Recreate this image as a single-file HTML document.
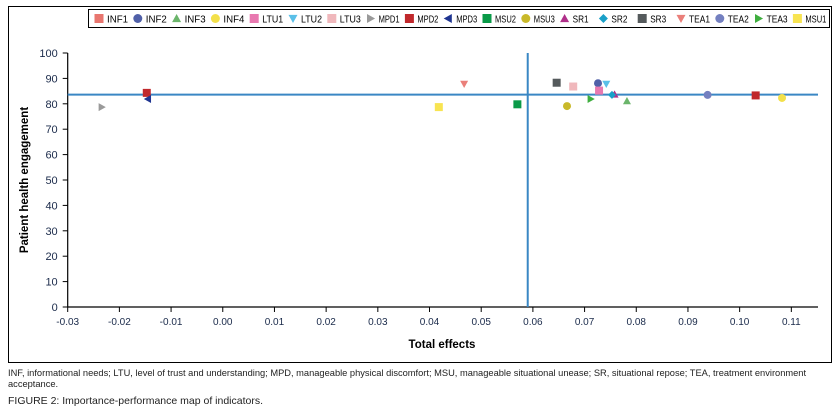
<!DOCTYPE html>
<html><head><meta charset="utf-8"><style>
body{margin:0;background:#fff;width:840px;height:416px;overflow:hidden;font-family:"Liberation Sans Narrow","Liberation Sans",sans-serif;}
svg text{font-family:"Liberation Sans Narrow","Liberation Sans",sans-serif;}
.cap{position:absolute;left:8px;font-size:9.3px;color:#222;line-height:11px;}
</style></head><body>
<svg id="chart" width="840" height="416" style="position:absolute;left:0;top:0">
<rect x="8.5" y="6.5" width="823" height="356" fill="#fff" stroke="#000" stroke-width="1"/>
<g id="plot"></g>
</svg>
<div class="cap" style="top:368px;width:825px">INF, informational needs; LTU, level of trust and understanding; MPD, manageable physical discomfort; MSU, manageable situational unease; SR, situational repose; TEA, treatment environment acceptance.</div>
<div class="cap" style="top:396px;font-size:10.5px">FIGURE 2: Importance-performance map of indicators.</div>
<script>
const labels=["INF1","INF2","INF3","INF4","LTU1","LTU2","LTU3","MPD1","MPD2","MPD3","MSU2","MSU3","SR1","SR2","SR3","TEA1","TEA2","TEA3","MSU1"];
const xVals=[0.1031,0.0726,0.0782,0.1082,0.0728,0.0742,0.0678,-0.0234,-0.0147,-0.0145,0.0570,0.0666,0.0758,0.0753,0.0646,0.0467,0.0938,0.0712,0.0418];
const yVals=[83.3,88.1,81.1,82.3,85.2,87.8,86.8,78.7,84.3,81.9,79.8,79.1,83.7,83.5,88.3,87.8,83.5,81.9,78.7];
const colors=["#c0282c","#5060a8","#6bb56b","#f3e04a","#e879b0","#5bc0e8","#f0b8bc","#9a9a9a","#c0282c","#1f3591","#0a9a48","#c9b92a","#b0308a","#1aa0c8","#555a5c","#ea7f7a","#7480c0","#3fae3f","#f8e451"];
const legendColors=["#e8766f","#5060a8","#6bb56b","#f3e04a","#e879b0","#5bc0e8","#f0b8bc","#9a9a9a","#c0282c","#1f3591","#0a9a48","#c9b92a","#b0308a","#1aa0c8","#555a5c","#ea7f7a","#7480c0","#3fae3f","#f8e451"];
const shapes=["sq","ci","tu","ci","sq","td","sq","tr","sq","tl","sq","ci","tu","di","sq","td","ci","tr","sq"];
const xTicks=[-0.03,-0.02,-0.01,0,0.01,0.02,0.03,0.04,0.05,0.06,0.07,0.08,0.09,0.10,0.11];
const xTickLabels=["-0.03","-0.02","-0.01","0.00","0.01","0.02","0.03","0.04","0.05","0.06","0.07","0.08","0.09","0.10","0.11"];
const yTicks=[0,10,20,30,40,50,60,70,80,90,100];
const meanX=0.059, meanY=83.6;
const X0=67.7,X1=818,xMin=-0.03,xMax=0.11516,Y0=307,Y1=53;
const sx=v=>X0+(v-xMin)/(xMax-xMin)*(X1-X0);
const sy=v=>Y0-(v/100)*(Y0-Y1);
const NS="http://www.w3.org/2000/svg";
const g=document.getElementById("plot");
function mk(t,a,p){const e=document.createElementNS(NS,t);for(const k in a)e.setAttribute(k,a[k]);(p||g).appendChild(e);return e;}
function marker(s,cx,cy,r,c){
 if(s==="sq")return mk("rect",{x:cx-r,y:cy-r,width:2*r,height:2*r,fill:c});
 if(s==="ci")return mk("circle",{cx:cx,cy:cy,r:r,fill:c});
 let p;
 if(s==="tu")p=[[cx,cy-r],[cx+r,cy+r*0.8],[cx-r,cy+r*0.8]];
 if(s==="td")p=[[cx-r,cy-r*0.8],[cx+r,cy-r*0.8],[cx,cy+r]];
 if(s==="tr")p=[[cx-r*0.8,cy-r],[cx+r,cy],[cx-r*0.8,cy+r]];
 if(s==="tl")p=[[cx+r*0.8,cy-r],[cx-r,cy],[cx+r*0.8,cy+r]];
 if(s==="di")p=[[cx,cy-r],[cx+r,cy],[cx,cy+r],[cx-r,cy]];
 return mk("polygon",{points:p.map(q=>q.join(",")).join(" "),fill:c});
}
let e=mk("line",{x1:X0,y1:Y1,x2:X0,y2:Y0,stroke:"#000","stroke-width":1.2});


e=mk("line",{x1:X0,y1:Y0,x2:X1,y2:Y0,stroke:"#000","stroke-width":1.2});


yTicks.forEach(v=>{
 mk("line",{x1:X0-5,y1:sy(v),x2:X0,y2:sy(v),stroke:"#000"});
 const t=mk("text",{x:X0-10,y:sy(v)+4,"text-anchor":"end","font-size":"11",fill:"#1a2a4a"});
 t.textContent=v;
 
 
});
xTicks.forEach((v,i)=>{
 mk("line",{x1:sx(v),y1:Y0,x2:sx(v),y2:Y0+5,stroke:"#000"});
 const t=mk("text",{x:sx(v),y:Y0+18,"text-anchor":"middle","font-size":"10",fill:"#1a2a4a"});
 t.textContent=xTickLabels[i];
 
 
});
e=mk("text",{x:442,y:348,"text-anchor":"middle","font-size":"11.5","font-weight":"bold",fill:"#000"});
e.textContent="Total effects";


e=mk("text",{x:0,y:0,"text-anchor":"middle","font-size":"11.5","font-weight":"bold",fill:"#000",transform:"translate(28,180) rotate(-90)"});
e.textContent="Patient health engagement";


e=mk("line",{x1:X0,y1:sy(meanY),x2:X1,y2:sy(meanY),stroke:"#3a87c4","stroke-width":2});


e=mk("line",{x1:sx(meanX),y1:Y1,x2:sx(meanX),y2:Y0,stroke:"#3a87c4","stroke-width":2});


labels.forEach((l,i)=>{
 const m=marker(shapes[i],sx(xVals[i]),sy(yVals[i]),4,colors[i]);
 
 
});
e=mk("rect",{x:88.5,y:9.5,width:741,height:18,fill:"#fff",stroke:"#000"});


let lx=94;
labels.forEach((l,i)=>{
 const m=marker(shapes[i],lx+5,18.5,4.5,legendColors[i]);
 
 
 const t=mk("text",{x:lx+13,y:22.5,"font-size":"10",fill:"#000",textLength:(l.length===3?16:21),lengthAdjust:"spacingAndGlyphs"});
 t.textContent=l;
 
 
 lx+=38.8;
});
</script>
</body></html>
